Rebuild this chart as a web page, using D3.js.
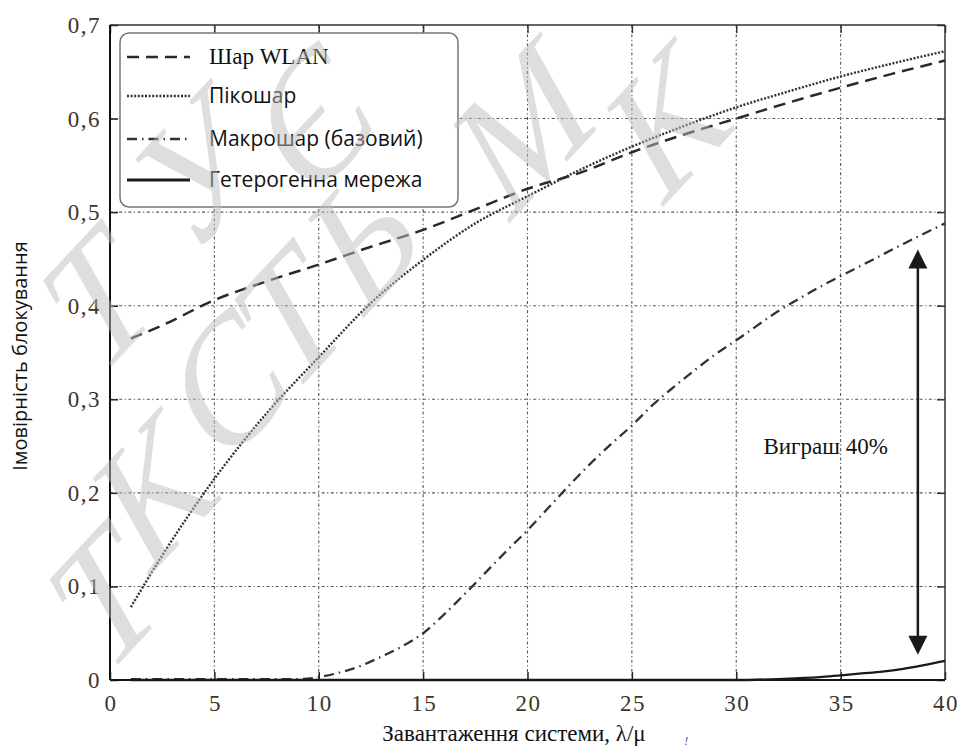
<!DOCTYPE html>
<html>
<head>
<meta charset="utf-8">
<script src="https://cdn.jsdelivr.net/npm/d3@7"></script>
<style>
  body { margin: 0; background: #fff; }
</style>
</head>
<body>
<div id="chart"></div>
<script>
// Tick values.
const xTicks = [0, 5, 10, 15, 20, 25, 30, 35, 40];
const yTicks = [0, 0.1, 0.2, 0.3, 0.4, 0.5, 0.6, 0.7];

// System load (lambda/mu) and blocking probabilities.
const loadA = [1, 2.5, 5, 7.5, 10, 12.5, 15, 17.5, 20, 22.5, 25, 27.5, 30, 32.5, 35, 37.5, 40];
const wlan = [0.365, 0.379, 0.406, 0.426, 0.444, 0.463, 0.481, 0.503, 0.525, 0.542, 0.564, 0.583, 0.600, 0.617, 0.633, 0.648, 0.662];
const pico = [0.078, 0.133, 0.215, 0.285, 0.345, 0.403, 0.449, 0.488, 0.517, 0.545, 0.570, 0.592, 0.612, 0.629, 0.645, 0.659, 0.672];

const loadM = [1, 5, 9, 10, 11, 12, 13, 14, 15, 16, 17, 18, 19, 20, 21, 22, 23, 24, 25, 26, 27, 28, 29, 30, 32, 34, 36, 38, 40];
const macro = [0.001, 0.001, 0.001, 0.003, 0.008, 0.015, 0.025, 0.036, 0.050, 0.070, 0.092, 0.115, 0.138, 0.160, 0.184, 0.208, 0.231, 0.252, 0.272, 0.294, 0.313, 0.331, 0.348, 0.363, 0.394, 0.420, 0.443, 0.466, 0.488];

const loadH = [1, 10, 20, 30, 32, 34, 35, 36, 37, 38, 39, 40];
const hetero = [0, 0, 0, 0, 0.001, 0.003, 0.005, 0.007, 0.009, 0.012, 0.016, 0.0205];

const seriesNames = ['Шар WLAN', 'Пікошар', 'Макрошар (базовий)', 'Гетерогенна мережа'];

// Gain annotation (double arrow).
const gainX = 38.7;
const gainTop = 0.46;
const gainBottom = 0.027;
const gainLabel = 'Виграш 40%';
const gainLabelX = 31.3;
const gainLabelY = 0.241;

// Watermark letters along two diagonal lines.
const watermarkLetters = ['Т', 'У', 'Є', 'Т', 'К', 'С', 'Т', 'Ь', 'М', 'К'];

const width = 968, height = 749;
const margin = {top: 25, right: 23, bottom: 69, left: 110};
const serif = '"Liberation Serif", "Times New Roman", serif';
const sans = '"Open Sans", "Noto Sans", sans-serif';
const tickColor = '#3f3427';

const svg = d3.select('#chart')
    .append('svg')
        .attr('width', width)
        .attr('height', height);

const x = d3.scaleLinear()
    .domain([0, 40])
    .range([margin.left, width - margin.right]);
const y = d3.scaleLinear()
    .domain([0, 0.7])
    .range([height - margin.bottom, margin.top]);

const x0 = x(0), x1 = x(40), y0 = y(0), y1 = y(0.7);

// Grid.
const grid = svg.append('g')
    .attr('stroke', '#555')
    .attr('stroke-width', 1.1)
    .attr('stroke-dasharray', '3,2.5,1.2,2.5');
grid.selectAll('.vg')
    .data(xTicks.slice(1, -1))
    .enter()
    .append('line')
        .attr('x1', d => x(d)).attr('x2', d => x(d))
        .attr('y1', y1).attr('y2', y0);
grid.selectAll('.hg')
    .data(yTicks.slice(1, -1))
    .enter()
    .append('line')
        .attr('x1', x0).attr('x2', x1)
        .attr('y1', d => y(d)).attr('y2', d => y(d));

// Axes with inward ticks.
svg.append('g')
    .attr('transform', `translate(0,${y0})`)
    .call(d3.axisBottom(x).tickValues(xTicks).tickSize(-8).tickSizeOuter(0).tickFormat(''))
    .call(g => g.select('.domain').remove())
    .call(g => g.selectAll('line').attr('stroke', '#222').attr('stroke-width', 1.5));
svg.append('g')
    .attr('transform', `translate(0,${y1})`)
    .call(d3.axisTop(x).tickValues(xTicks).tickSize(-8).tickSizeOuter(0).tickFormat(''))
    .call(g => g.select('.domain').remove())
    .call(g => g.selectAll('line').attr('stroke', '#333').attr('stroke-width', 1.5));
svg.append('g')
    .attr('transform', `translate(${x0},0)`)
    .call(d3.axisLeft(y).tickValues(yTicks).tickSize(-8).tickSizeOuter(0).tickFormat(''))
    .call(g => g.select('.domain').remove())
    .call(g => g.selectAll('line').attr('stroke', '#222').attr('stroke-width', 1.5));
svg.append('g')
    .attr('transform', `translate(${x1},0)`)
    .call(d3.axisRight(y).tickValues(yTicks).tickSize(-8).tickSizeOuter(0).tickFormat(''))
    .call(g => g.select('.domain').remove())
    .call(g => g.selectAll('line').attr('stroke', '#333').attr('stroke-width', 1.5));

// Frame.
svg.append('line').attr('x1', x0).attr('x2', x1).attr('y1', y1).attr('y2', y1)
    .attr('stroke', '#333').attr('stroke-width', 1.5);
svg.append('line').attr('x1', x1).attr('x2', x1).attr('y1', y1).attr('y2', y0)
    .attr('stroke', '#333').attr('stroke-width', 1.5);
svg.append('line').attr('x1', x0).attr('x2', x1).attr('y1', y0).attr('y2', y0)
    .attr('stroke', '#111').attr('stroke-width', 2);
svg.append('line').attr('x1', x0).attr('x2', x0).attr('y1', y1).attr('y2', y0)
    .attr('stroke', '#111').attr('stroke-width', 2);

// Tick labels.
svg.selectAll('.xl')
    .data(xTicks)
    .enter()
    .append('text')
        .attr('x', d => x(d) + 1)
        .attr('y', y0 + 31)
        .attr('text-anchor', 'middle')
        .style('font-family', serif)
        .style('font-size', '23px')
        .style('letter-spacing', '1.5px')
        .attr('fill', tickColor)
        .text(d => d);
svg.selectAll('.yl')
    .data(yTicks)
    .enter()
    .append('text')
        .attr('x', x0 - 9)
        .attr('y', d => y(d) + 8)
        .attr('text-anchor', 'end')
        .style('font-family', serif)
        .style('font-size', '23px')
        .style('letter-spacing', '1.5px')
        .attr('fill', tickColor)
        .text(d => d === 0 ? '0' : String(d).replace('.', ','));

// Axis titles.
svg.append('text')
    .attr('x', 514)
    .attr('y', 741)
    .attr('text-anchor', 'middle')
    .style('font-family', serif)
    .style('font-size', '23px')
    .attr('fill', '#111')
    .text('Завантаження системи, λ/μ');
svg.append('text')
    .attr('x', 684)
    .attr('y', 745)
    .style('font-family', serif)
    .style('font-size', '13px')
    .style('font-style', 'italic')
    .attr('fill', '#4060b0')
    .text('!');
svg.append('text')
    .attr('transform', `translate(27,356) rotate(-90)`)
    .attr('text-anchor', 'middle')
    .style('font-family', sans)
    .style('font-size', '20px')
    .attr('fill', '#111')
    .text('Імовірність блокування');

// Curves.
const series = [
    {xs: loadA, ys: wlan, stroke: '#2a2a2a', width: 2.5, dash: '12,7'},
    {xs: loadA, ys: pico, stroke: '#333', width: 2.4, dash: '2,1.6'},
    {xs: loadM, ys: macro, stroke: '#333', width: 2.3, dash: '10,5,1.5,5'},
    {xs: loadH, ys: hetero, stroke: '#1a1a1a', width: 2.3, dash: null}
];
const line = d3.line()
    .x(d => x(d[0]))
    .y(d => y(d[1]))
    .curve(d3.curveMonotoneX);
series.forEach(s => {
    svg.append('path')
        .datum(s.xs.map((v, i) => [v, s.ys[i]]))
        .attr('d', line)
        .attr('fill', 'none')
        .attr('stroke', s.stroke)
        .attr('stroke-width', s.width)
        .attr('stroke-dasharray', s.dash);
});

// Gain arrow.
const ax = x(gainX);
svg.append('line')
    .attr('x1', ax).attr('x2', ax)
    .attr('y1', y(gainTop) + 16).attr('y2', y(gainBottom) - 16)
    .attr('stroke', '#1a1a1a').attr('stroke-width', 2.5);
svg.append('path')
    .attr('d', `M${ax},${y(gainTop)} L${ax - 9.5},${y(gainTop) + 19} L${ax + 9.5},${y(gainTop) + 19} Z`)
    .attr('fill', '#1a1a1a');
svg.append('path')
    .attr('d', `M${ax},${y(gainBottom)} L${ax - 9.5},${y(gainBottom) - 19} L${ax + 9.5},${y(gainBottom) - 19} Z`)
    .attr('fill', '#1a1a1a');
svg.append('text')
    .attr('x', x(gainLabelX))
    .attr('y', y(gainLabelY))
    .style('font-family', serif)
    .style('font-size', '23px')
    .attr('fill', '#111')
    .text(gainLabel);

// Legend.
const legend = svg.append('g');
legend.append('rect')
    .attr('x', 120).attr('y', 33)
    .attr('width', 338).attr('height', 174)
    .attr('rx', 9)
    .attr('fill', '#fff')
    .attr('stroke', '#777')
    .attr('stroke-width', 1.5);
const legendRows = [57, 96, 139, 180];
const legendFonts = [serif, sans, sans, sans];
const legendSizes = ['23px', '21px', '21px', '21px'];
series.forEach((s, i) => {
    legend.append('line')
        .attr('x1', 127).attr('x2', 190)
        .attr('y1', legendRows[i]).attr('y2', legendRows[i])
        .attr('stroke', s.stroke)
        .attr('stroke-width', i === 3 ? 3 : s.width)
        .attr('stroke-dasharray', s.dash);
    legend.append('text')
        .attr('x', 209)
        .attr('y', legendRows[i] + 7)
        .style('font-family', legendFonts[i])
        .style('font-size', legendSizes[i])
        .attr('fill', '#111')
        .text(seriesNames[i]);
});

// Watermark on top, semi transparent, one letter at a time.
const watermarkPos = [
    [98, 300], [195, 172], [312, 120],
    [104, 598], [152, 492], [226, 385], [289, 318], [362, 238], [522, 128], [666, 122]
];
const wm = svg.append('g')
    .attr('fill', '#bdbdbd')
    .attr('opacity', 0.5)
    .style('font-family', serif)
    .style('font-style', 'italic')
    .style('font-size', '165px');
watermarkLetters.forEach((ch, i) => {
    wm.append('text')
        .attr('transform', `translate(${watermarkPos[i][0]},${watermarkPos[i][1]}) rotate(-47) skewX(-8)`)
        .attr('text-anchor', 'middle')
        .attr('dominant-baseline', 'central')
        .text(ch);
});
</script>
</body>
</html>
